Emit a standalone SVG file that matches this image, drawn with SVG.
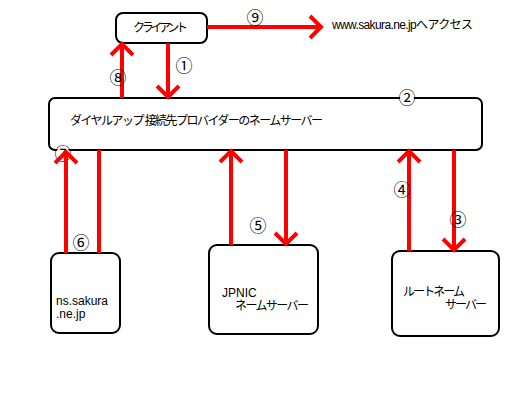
<svg xmlns="http://www.w3.org/2000/svg" width="512" height="408" viewBox="0 0 512 408">
<style>
.box{fill:#fff;stroke:#000;stroke-width:2}
.t{font-family:"Liberation Sans","Noto Sans CJK JP",sans-serif;font-size:12px;fill:#000}
.n{font-family:"Noto Sans CJK JP","DejaVu Sans",sans-serif;font-size:17px;fill:#000}
.bg{fill:#fff}
.a{stroke:#f00;stroke-width:4;fill:none}
</style>
<defs>
<marker id="ah" markerUnits="userSpaceOnUse" markerWidth="30" markerHeight="30" viewBox="-15 -15 30 30" refX="0" refY="0" orient="auto">
<path d="M-11,-11 L0,0 L-11,11" fill="none" stroke="#f00" stroke-width="4"/>
</marker>
</defs>
<rect width="512" height="408" fill="#fff"/>
<g id="client"><rect class="box" x="116" y="13" width="91" height="30" rx="7"/><text class="t" x="133" y="32" textLength="55">クライアント</text></g>
<g id="isp"><rect class="box" x="49" y="98" width="433" height="52" rx="6"/><text class="t" x="70" y="125" textLength="253">ダイヤルアップ 接続先プロバイダーのネームサーバー</text></g>
<g id="ns"><rect class="box" x="51" y="253" width="69" height="80" rx="8"/><text class="t" x="56" y="305">ns.sakura</text><text class="t" x="56" y="318">.ne.jp</text></g>
<g id="jpnic"><rect class="box" x="209" y="245" width="109" height="89" rx="8"/><text class="t" x="222" y="297">JPNIC</text><text class="t" x="235" y="310" textLength="74">ネームサーバー</text></g>
<g id="root"><rect class="box" x="392" y="251" width="107" height="85" rx="8"/><text class="t" x="403" y="296" textLength="62">ルートネーム</text><text class="t" x="445" y="309" textLength="42">サーバー</text></g>
<g id="web"><text class="t" x="332" y="29" textLength="141">www.sakura.ne.jpへアクセス</text></g>
<g id="label7"><circle class="bg" cx="63" cy="154" r="7"/><text class="n" x="63" y="160" text-anchor="middle">⑦</text></g>
<g id="connectors">
<line class="a" x1="168" y1="43" x2="168" y2="97" marker-end="url(#ah)"/>
<line class="a" x1="454" y1="150" x2="454" y2="250" marker-end="url(#ah)"/>
<line class="a" x1="409" y1="251" x2="409" y2="151" marker-end="url(#ah)"/>
<line class="a" x1="286" y1="150" x2="286" y2="244" marker-end="url(#ah)"/>
<line class="a" x1="231" y1="245" x2="231" y2="151" marker-end="url(#ah)"/>
<line class="a" x1="99" y1="150" x2="99" y2="253"/>
<line class="a" x1="66" y1="253" x2="66" y2="152" marker-end="url(#ah)"/>
<line class="a" x1="122" y1="98" x2="122" y2="44" marker-end="url(#ah)"/>
<line class="a" x1="207" y1="27" x2="321" y2="27" marker-end="url(#ah)"/>
</g>
<g id="labels">
<text class="n" x="184" y="72" text-anchor="middle">①</text>
<circle class="bg" cx="407" cy="98" r="7"/><text class="n" x="407" y="104" text-anchor="middle">②</text>
<text class="n" x="458" y="226" text-anchor="middle">③</text>
<text class="n" x="402" y="196" text-anchor="middle">④</text>
<text class="n" x="258" y="232" text-anchor="middle">⑤</text>
<text class="n" x="81" y="249" text-anchor="middle">⑥</text>
<text class="n" x="118" y="84" text-anchor="middle">⑧</text>
<text class="n" x="255" y="24" text-anchor="middle">⑨</text>
</g>
</svg>
